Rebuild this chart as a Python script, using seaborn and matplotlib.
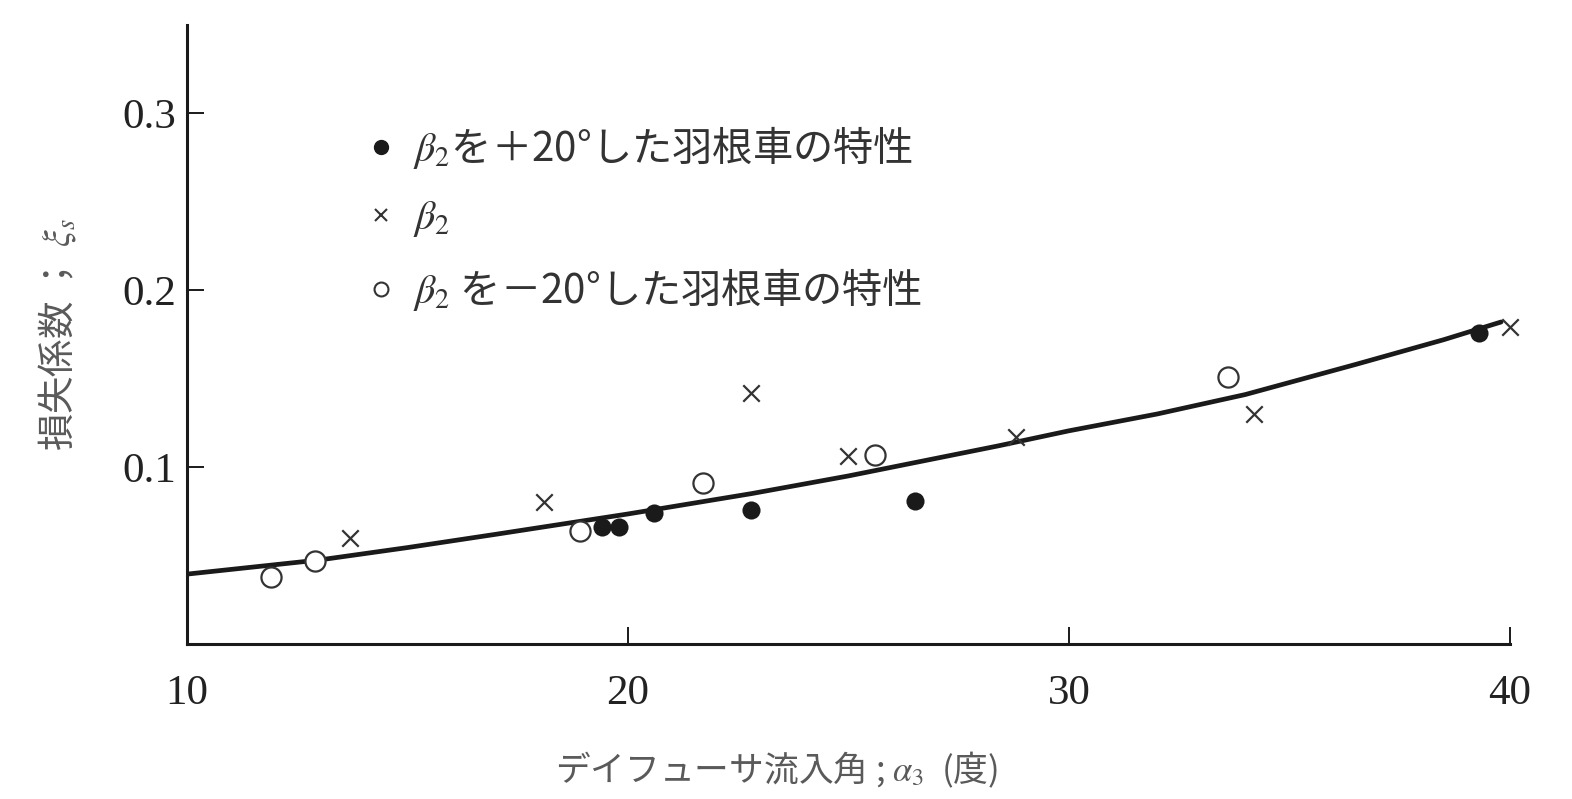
import matplotlib
matplotlib.use("Agg")
import matplotlib.pyplot as plt
import seaborn as sns
import pandas as pd
from matplotlib.lines import Line2D

# Measured loss coefficient vs. diffuser inlet angle
plus20_x = [19.4, 19.8, 20.6, 22.8, 26.5, 39.3]
plus20_y = [0.066, 0.066, 0.074, 0.076, 0.081, 0.176]

base_x = [13.7, 18.1, 22.8, 25.0, 28.8, 34.2, 40.0]
base_y = [0.060, 0.080, 0.142, 0.106, 0.117, 0.130, 0.179]

minus20_x = [11.9, 12.9, 18.9, 21.7, 25.6, 33.6]
minus20_y = [0.038, 0.047, 0.064, 0.091, 0.107, 0.151]

# Trend curve through the data
curve_x = [10.0, 11.5, 13.0, 15.0, 17.0, 20.0, 22.8, 25.0, 28.4, 30.0, 32.0, 34.0, 36.5, 38.5, 39.8]
curve_y = [0.0395, 0.0435, 0.0475, 0.0545, 0.062, 0.0735, 0.085, 0.095, 0.112, 0.1205, 0.130, 0.141, 0.158, 0.172, 0.182]

x_ticks = [10, 20, 30, 40]
y_ticks = [0.1, 0.2, 0.3]

legend_labels = [r"$\beta_2$を＋20°した羽根車の特性",
                 r"$\beta_2$",
                 r"$\beta_2$ を－20°した羽根車の特性"]

sns.set_theme(style="white")
plt.rcParams["font.family"] = ["Noto Sans CJK JP", "DejaVu Sans"]
plt.rcParams["mathtext.fontset"] = "stix"

ink = "#1a1a1a"

fig = plt.figure(figsize=(15.72, 7.99), dpi=100)
ax = fig.add_axes([0.119, 0.194, 0.8415, 0.775])

curve_df = pd.DataFrame({"x": curve_x, "y": curve_y})
sns.lineplot(data=curve_df, x="x", y="y", ax=ax, color=ink, linewidth=3.4,
             sort=False, estimator=None)

sns.scatterplot(x=plus20_x, y=plus20_y, ax=ax, marker="o", s=170,
                color=ink, edgecolor=ink, linewidth=0, zorder=3, clip_on=False)
sns.scatterplot(x=base_x, y=base_y, ax=ax, marker="x", s=140,
                color="#333333", linewidth=1.6, zorder=3, clip_on=False)
sns.scatterplot(x=minus20_x, y=minus20_y, ax=ax, marker="o", s=210,
                facecolor="white", edgecolor="#333333", linewidth=1.6,
                zorder=3, clip_on=False)

ax.set_xlim(10, 40)
ax.set_ylim(0, 0.35)
ax.set_xticks(x_ticks)
ax.set_yticks(y_ticks)
ax.set_xticklabels([str(v) for v in x_ticks], family="Liberation Serif",
                   fontsize=31, color="#222222")
ax.set_yticklabels([f"{v:.1f}" for v in y_ticks], family="Liberation Serif",
                   fontsize=31, color="#222222")
ax.tick_params(axis="both", direction="in", length=12, width=1.4,
               colors=ink, labelcolor="#222222", bottom=True, left=True)
ax.tick_params(axis="x", pad=22)
ax.tick_params(axis="y", pad=8)

for side in ("top", "right"):
    ax.spines[side].set_visible(False)
for side in ("left", "bottom"):
    ax.spines[side].set_color(ink)
    ax.spines[side].set_linewidth(2.2)

ax.set_xlabel(r"デイフューサ流入角 ; $\alpha_3$  (度)", fontsize=25,
              color="#5a5a5a")
ax.xaxis.set_label_coords(0.446, -0.17)
ax.set_ylabel(r"損失係数 ； $\xi_s$", fontsize=27, color="#5a5a5a")
ax.yaxis.set_label_coords(-0.082, 0.5)

handles = [
    Line2D([], [], linestyle="none", marker="o", markersize=10,
           markerfacecolor=ink, markeredgecolor=ink),
    Line2D([], [], linestyle="none", marker="x", markersize=9,
           markeredgecolor="#333333", markeredgewidth=1.5),
    Line2D([], [], linestyle="none", marker="o", markersize=10,
           markerfacecolor="white", markeredgecolor="#333333",
           markeredgewidth=1.5),
]
leg = ax.legend(handles, legend_labels, loc="upper left",
                bbox_to_anchor=(0.127, 0.866), frameon=False, fontsize=29,
                handlelength=0.5, handletextpad=0.55, labelspacing=0.66,
                borderaxespad=0)
for t in leg.get_texts():
    t.set_color("#333333")

fig.savefig("out.png", dpi=100, facecolor="white")
